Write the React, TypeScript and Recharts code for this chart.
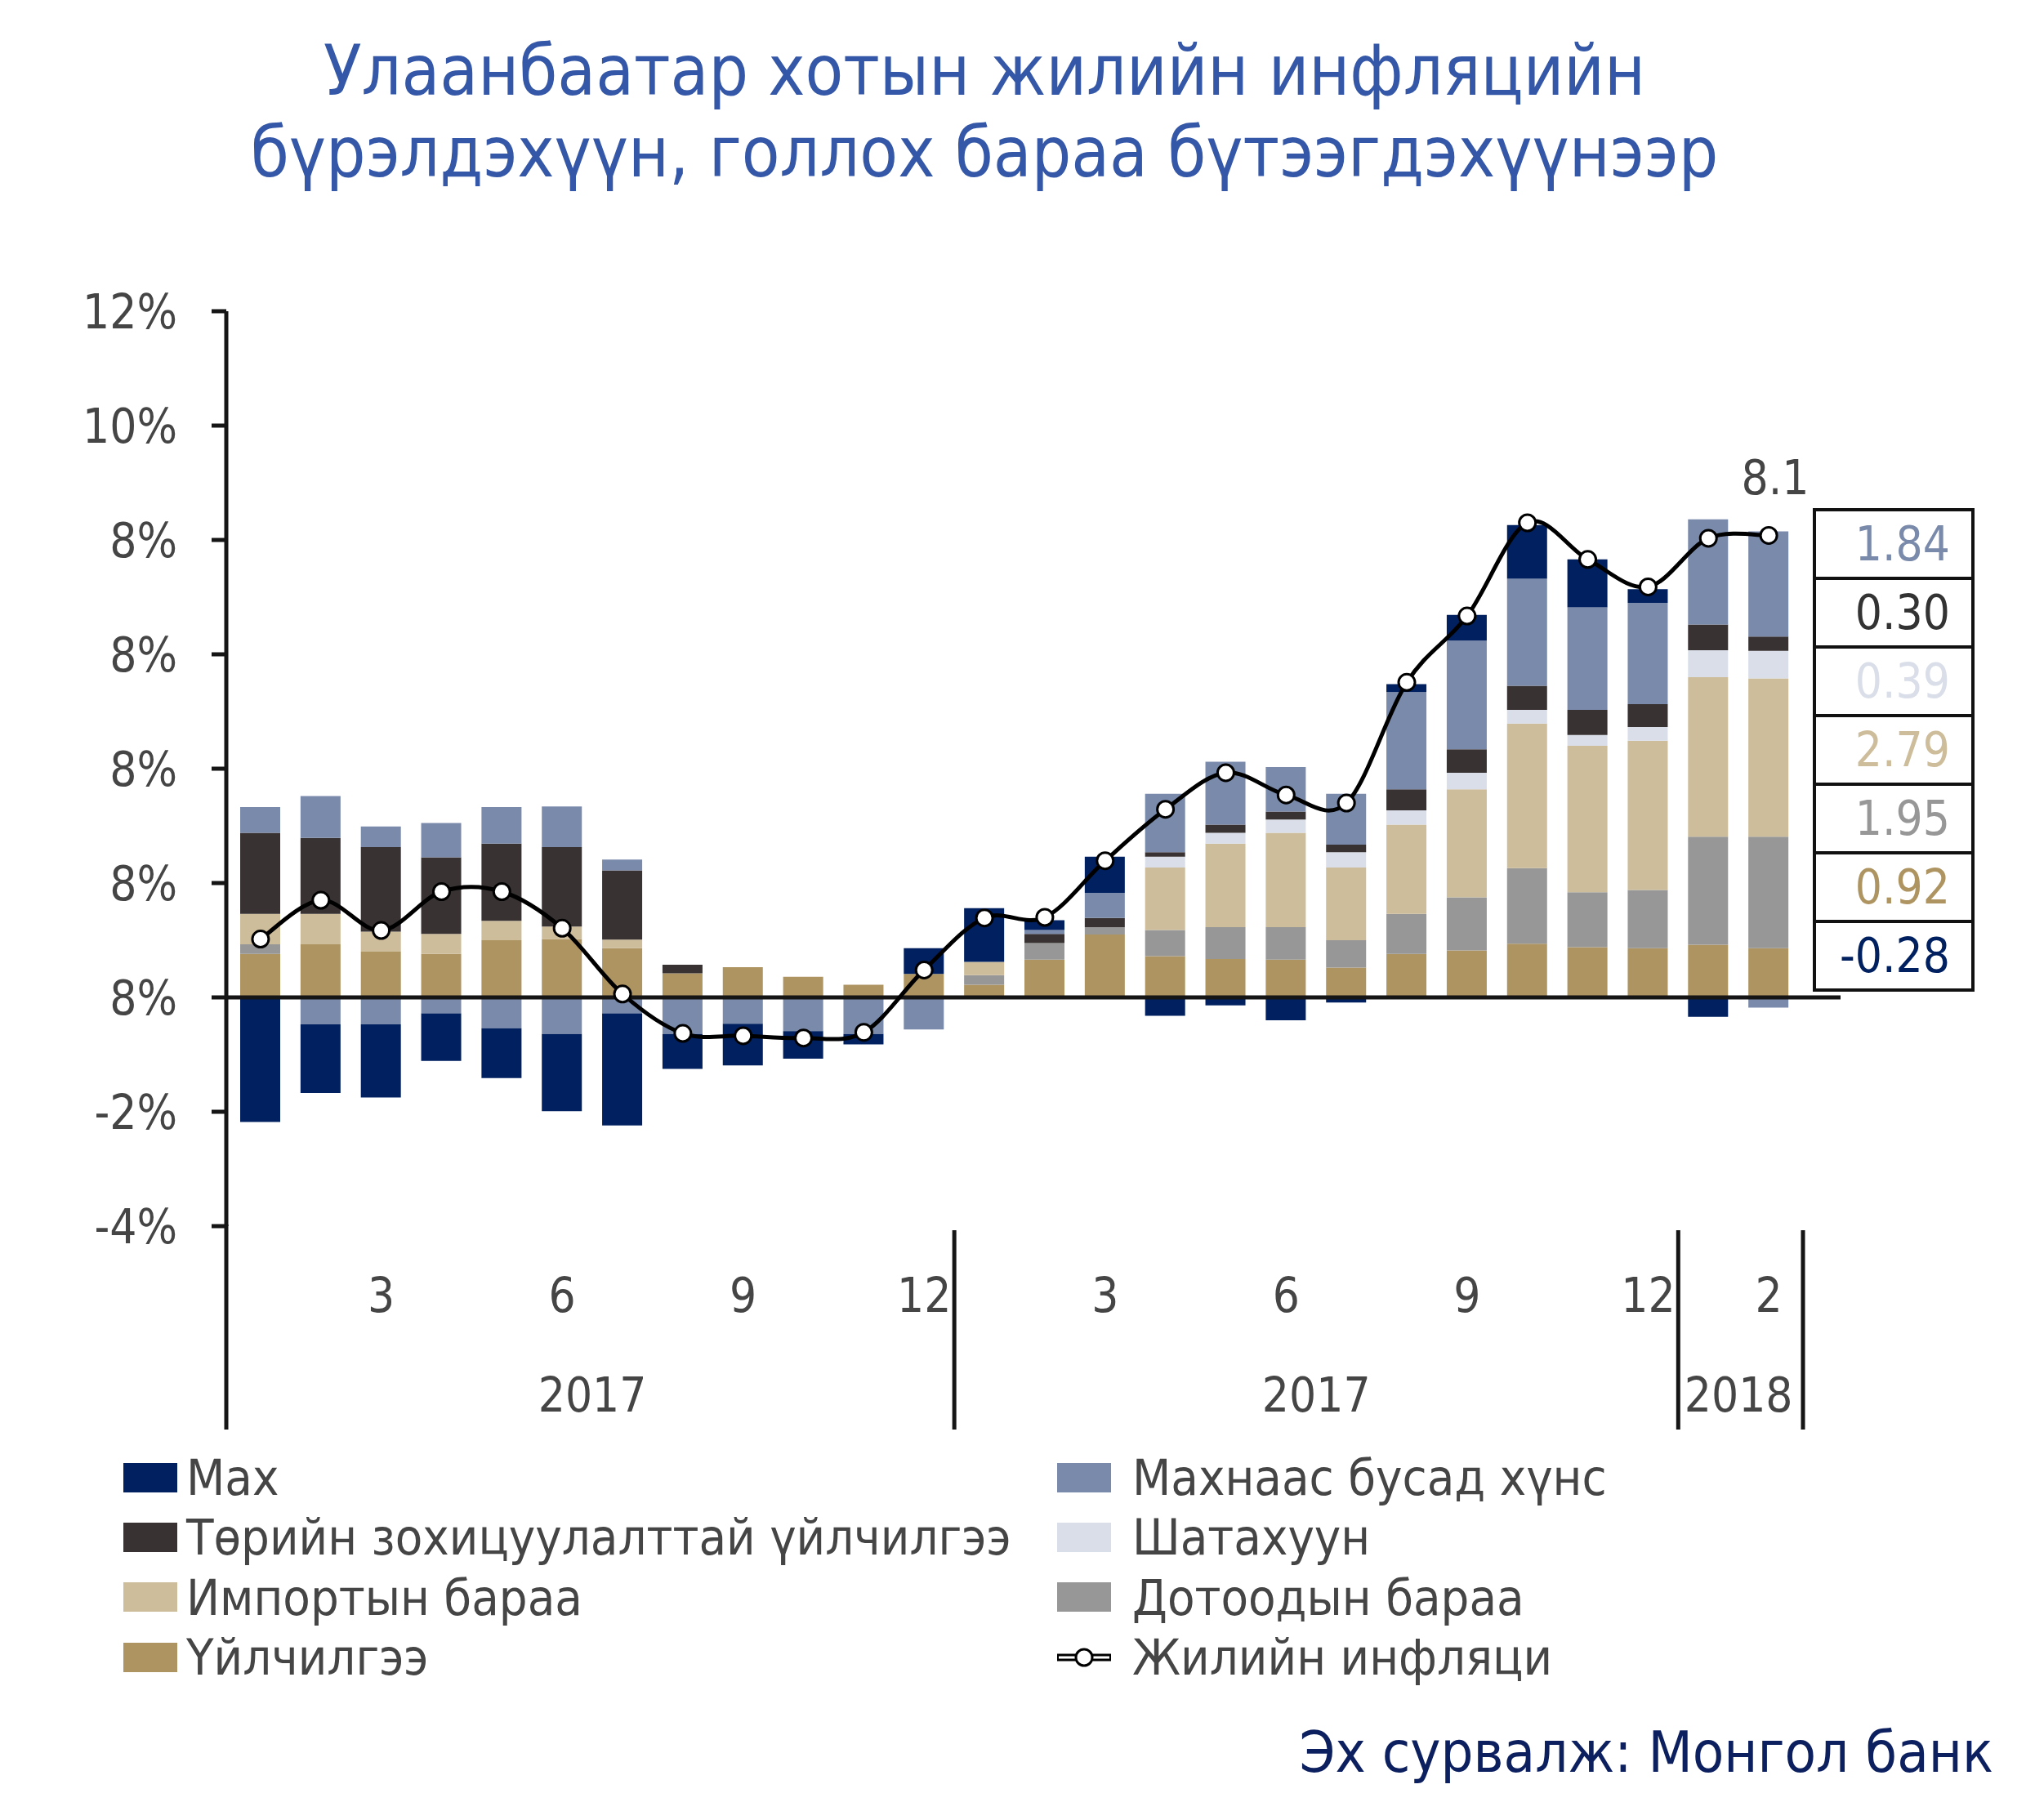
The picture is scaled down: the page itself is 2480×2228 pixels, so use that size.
import React from "react";
import { Bar, ComposedChart, Line, ReferenceDot, ReferenceLine, XAxis, YAxis } from "recharts";

const FONT = "'DejaVu Sans Condensed', 'DejaVu Sans', sans-serif";
const TEXT = "#454545";

// x axis: three year groups, month tick labels shown every quarter
const years = ["2017", "2017", "2018"];
const yearSizes = [12, 12, 2];
const monthTicks = [
  "", "", "3", "", "", "6", "", "", "9", "", "", "12",
  "", "", "3", "", "", "6", "", "", "9", "", "", "12",
  "", "2",
];

const yTicks = [-4, -2, 0, 2, 4, 6, 8, 10, 12];
const yTickLabels = ["-4%", "-2%", "8%", "8%", "8%", "8%", "8%", "10%", "12%"];

// contributions, percentage points
const service = [0.76, 0.93, 0.8, 0.76, 1.0, 1.02, 0.86, 0.42, 0.53, 0.36, 0.22, 0.41, 0.22, 0.66, 1.1, 0.72, 0.67, 0.66, 0.52, 0.76, 0.82, 0.94, 0.88, 0.86, 0.92, 0.86];
const domestic = [0.17, 0, 0, 0, 0, 0, 0, 0, 0, 0, 0, 0, 0.17, 0.29, 0.13, 0.46, 0.56, 0.57, 0.48, 0.7, 0.93, 1.32, 0.96, 1.02, 1.89, 1.95];
const imported = [0.53, 0.53, 0.35, 0.35, 0.34, 0.22, 0.15, 0, 0, 0, 0, 0, 0.23, 0, 0, 1.09, 1.46, 1.65, 1.27, 1.56, 1.89, 2.53, 2.56, 2.61, 2.79, 2.77];
const fuel = [0, 0, 0, 0, 0, 0, 0, 0, 0, 0, 0, 0, 0, 0, 0, 0.19, 0.19, 0.23, 0.27, 0.25, 0.29, 0.24, 0.19, 0.24, 0.47, 0.48];
const regulated = [1.42, 1.33, 1.48, 1.34, 1.35, 1.39, 1.21, 0.15, 0, 0, 0, 0, 0, 0.16, 0.16, 0.08, 0.14, 0.14, 0.13, 0.37, 0.41, 0.42, 0.44, 0.4, 0.45, 0.25];
const food = [0.45, 0.73, 0.36, 0.6, 0.64, 0.71, 0.19, 0, 0, 0, 0, 0, 0, 0.07, 0.44, 1.02, 1.1, 0.78, 0.89, 1.7, 1.9, 1.87, 1.79, 1.77, 1.84, 1.84];
const foodNeg = [0, -0.47, -0.47, -0.28, -0.54, -0.64, -0.28, -0.64, -0.46, -0.59, -0.64, -0.56, 0, 0, 0, 0, 0, 0, 0, 0, 0, 0, 0, 0, 0, -0.18];
const meat = [-2.18, -1.2, -1.28, -0.83, -0.87, -1.35, -1.96, -0.61, -0.73, -0.48, -0.18, 0.45, 0.94, 0.17, 0.63, -0.32, -0.14, -0.4, -0.09, 0.14, 0.45, 0.94, 0.84, 0.24, -0.34, 0];
const inflation = [1.02, 1.7, 1.17, 1.85, 1.85, 1.21, 0.06, -0.63, -0.67, -0.71, -0.61, 0.48, 1.39, 1.4, 2.39, 3.29, 3.93, 3.54, 3.4, 5.51, 6.67, 8.3, 7.66, 7.18, 8.03, 8.08];

// latest-month values printed in the box on the right
const boxValues = ["1.84", "0.30", "0.39", "2.79", "1.95", "0.92", "-0.28"];
const boxColors = ["#7A8AAB", "#333333", "#D9DEE8", "#CEBD9B", "#979797", "#AE9461", "#002060"];

const series = [
  { key: "service", name: "Үйлчилгээ", color: "#AE9461", values: service },
  { key: "domestic", name: "Дотоодын бараа", color: "#979797", values: domestic },
  { key: "imported", name: "Импортын бараа", color: "#CEBD9B", values: imported },
  { key: "fuel", name: "Шатахуун", color: "#D9DEE8", values: fuel },
  { key: "regulated", name: "Төрийн зохицуулалттай үйлчилгээ", color: "#383233", values: regulated },
  { key: "food", name: "Махнаас бусад хүнс", color: "#7A8AAB", values: food },
  { key: "foodNeg", name: "Махнаас бусад хүнс", color: "#7A8AAB", values: foodNeg },
  { key: "meat", name: "Мах", color: "#002060", values: meat },
];
const lineName = "Жилийн инфляци";
const legendColumns = [
  ["meat", "regulated", "imported", "service"],
  ["food", "fuel", "domestic", "inflation"],
];

const periods: string[] = [];
years.forEach((_, g) => {
  for (let m = 1; m <= yearSizes[g]; m++) periods.push(`${g}-${m}`);
});

const data = periods.map((period, i) => {
  const row: Record<string, number | string> = { period, inflation: inflation[i] };
  series.forEach((s) => (row[s.key] = s.values[i]));
  return row;
});

// layout
const W = 2480;
const H = 2228;
const PLOT_LEFT = 277;
const PLOT_RIGHT = 2207;
const PAD = 5;
const BAND = (PLOT_RIGHT - PLOT_LEFT - 2 * PAD) / periods.length;
const groupEnds = yearSizes.map((_, g) => yearSizes.slice(0, g + 1).reduce((a, b) => a + b, 0));

// Excel-like smoothed line (Catmull-Rom through every point)
const smoothCurve = (context: any) => {
  let pts: number[][] = [];
  return {
    areaStart() {},
    areaEnd() {},
    lineStart() {
      pts = [];
    },
    point(x: number, y: number) {
      pts.push([+x, +y]);
    },
    lineEnd() {
      const n = pts.length;
      if (!n) return;
      context.moveTo(pts[0][0], pts[0][1]);
      for (let i = 0; i < n - 1; i++) {
        const p0 = pts[Math.max(i - 1, 0)];
        const p1 = pts[i];
        const p2 = pts[i + 1];
        const p3 = pts[Math.min(i + 2, n - 1)];
        context.bezierCurveTo(
          p1[0] + (p2[0] - p0[0]) / 6,
          p1[1] + (p2[1] - p0[1]) / 6,
          p2[0] - (p3[0] - p1[0]) / 6,
          p2[1] - (p3[1] - p1[1]) / 6,
          p2[0],
          p2[1]
        );
      }
    },
  };
};

function MonthTick(props: any) {
  const { x, y, index } = props;
  const half = BAND / 2;
  const g = groupEnds.indexOf(index + 1);
  return (
    <g>
      {index === 0 && (
        <line x1={x - half - PAD} x2={x - half - PAD} y1={y - 2} y2={y + 249} stroke="#151515" strokeWidth={5} />
      )}
      {monthTicks[index] && (
        <text x={x} y={y + 105} textAnchor="middle" fill={TEXT} fontSize={58} fontFamily={FONT}>
          {monthTicks[index]}
        </text>
      )}
      {g >= 0 && (
        <>
          <line
            x1={x + half + (g === years.length - 1 ? PAD : 0)}
            x2={x + half + (g === years.length - 1 ? PAD : 0)}
            y1={y + 5}
            y2={y + 249}
            stroke="#151515"
            strokeWidth={5}
          />
          <text
            x={x + half - (yearSizes[g] * BAND) / 2}
            y={y + 227}
            textAnchor="middle"
            fill={TEXT}
            fontSize={58}
            fontFamily={FONT}
          >
            {years[g]}
          </text>
        </>
      )}
    </g>
  );
}

function LegendIcon({ k, gap }: { k: string; gap: number }) {
  if (k === "inflation") {
    return (
      <svg width={66} height={36} style={{ marginRight: gap }}>
        <line x1={0} x2={66} y1={18} y2={18} stroke="#000" strokeWidth={9} />
        <line x1={2} x2={64} y1={18} y2={18} stroke="#fff" strokeWidth={3} />
        <circle cx={33} cy={18} r={10} fill="#fff" stroke="#000" strokeWidth={3} />
      </svg>
    );
  }
  const s = series.find((it) => it.key === k)!;
  return <div style={{ width: 66, height: 36, background: s.color, marginRight: gap }} />;
}

export default function App() {
  const last = periods.length - 1;
  return (
    <div
      style={{
        position: "absolute",
        left: 0,
        top: 0,
        width: W,
        height: H,
        background: "#fff",
        fontFamily: FONT,
        color: TEXT,
        overflow: "hidden",
      }}
    >
      <div style={{ position: "absolute", left: 0, top: 37, width: 2410, textAlign: "center", color: "#3557A7", fontSize: 85, lineHeight: "100px" }}>
        Улаанбаатар хотын жилийн инфляцийн
        <br />
        бүрэлдэхүүн, голлох бараа бүтээгдэхүүнээр
      </div>

      <ComposedChart
        width={W}
        height={H}
        data={data}
        stackOffset="sign"
        margin={{ top: 381, right: W - PLOT_RIGHT, bottom: 467, left: 0 }}
      >
        <XAxis
          dataKey="period"
          interval={0}
          axisLine={false}
          tickLine={false}
          tickSize={0}
          tickMargin={0}
          height={260}
          padding={{ left: PAD, right: PAD }}
          tick={<MonthTick />}
        />
        <YAxis
          width={PLOT_LEFT}
          domain={[-4, 12]}
          ticks={yTicks}
          tickFormatter={(v: number) => yTickLabels[yTicks.indexOf(v)]}
          axisLine={{ stroke: "#151515", strokeWidth: 5 }}
          tickLine={{ stroke: "#151515", strokeWidth: 5 }}
          tickSize={18}
          tickMargin={42}
          tick={{ fill: TEXT, fontSize: 58, fontFamily: FONT }}
        />
        {series.map((s) => (
          <Bar key={s.key} dataKey={s.key} name={s.name} stackId="a" fill={s.color} barSize={49} isAnimationActive={false} />
        ))}
        <ReferenceLine
          y={0}
          shape={(p: any) => <line x1={p.x1} y1={p.y1} x2={p.x2 + 46} y2={p.y2} stroke="#151515" strokeWidth={5} />}
        />
        <Line
          dataKey="inflation"
          name={lineName}
          type={smoothCurve as any}
          stroke="#000"
          strokeWidth={5}
          dot={{ r: 10, fill: "#fff", stroke: "#000", strokeWidth: 3 }}
          activeDot={false}
          isAnimationActive={false}
        />
        <ReferenceDot
          x={periods[last]}
          y={inflation[last]}
          r={0}
          fill="none"
          stroke="none"
          label={{ value: inflation[last].toFixed(1), position: "top", offset: 50, dx: 8, fill: TEXT, fontSize: 58, fontFamily: FONT }}
        />
      </ComposedChart>

      <div style={{ position: "absolute", left: 2219, top: 622, width: 198, border: "4px solid #111", boxSizing: "border-box" }}>
        {boxValues.map((v, i) => (
          <div
            key={i}
            style={{
              height: 80,
              borderTop: i > 0 ? "4px solid #111" : "none",
              color: boxColors[i],
              fontSize: 58,
              lineHeight: "80px",
              textAlign: "right",
              paddingRight: 26,
            }}
          >
            {v}
          </div>
        ))}
      </div>

      {legendColumns.map((col, c) => (
        <div key={c} style={{ position: "absolute", left: c === 0 ? 151 : 1294, top: 1772 }}>
          {col.map((k) => (
            <div key={k} style={{ display: "flex", alignItems: "center", height: 73.3, fontSize: 61, whiteSpace: "nowrap" }}>
              <LegendIcon k={k} gap={c === 0 ? 11 : 26} />
              <span>{k === "inflation" ? lineName : series.find((s) => s.key === k)!.name}</span>
            </div>
          ))}
        </div>
      ))}

      <div style={{ position: "absolute", right: 40, top: 2105, fontSize: 70, lineHeight: "80px", color: "#0C1F5E" }}>
        Эх сурвалж: Монгол банк
      </div>
    </div>
  );
}
